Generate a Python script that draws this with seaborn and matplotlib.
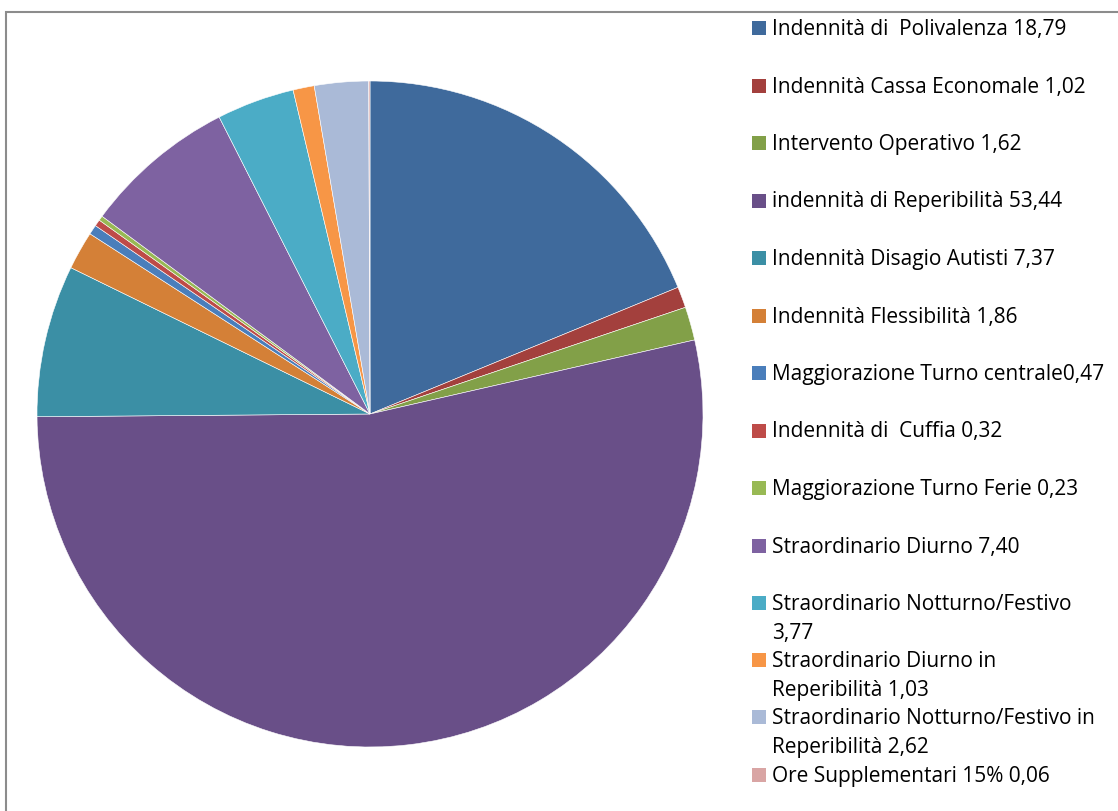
import matplotlib
matplotlib.use("Agg")
import matplotlib.pyplot as plt
from matplotlib.patches import Rectangle
import seaborn as sns

# voci e valori (percentuali)
labels = [
    "Indennità di  Polivalenza 18,79",
    "Indennità Cassa Economale 1,02",
    "Intervento Operativo 1,62",
    "indennità di Reperibilità 53,44",
    "Indennità Disagio Autisti 7,37",
    "Indennità Flessibilità 1,86",
    "Maggiorazione Turno centrale0,47",
    "Indennità di  Cuffia 0,32",
    "Maggiorazione Turno Ferie 0,23",
    "Straordinario Diurno 7,40",
    "Straordinario Notturno/Festivo\n3,77",
    "Straordinario Diurno in\nReperibilità 1,03",
    "Straordinario Notturno/Festivo in\nReperibilità 2,62",
    "Ore Supplementari 15% 0,06",
]
values = [18.79, 1.02, 1.62, 53.44, 7.37, 1.86, 0.47, 0.32, 0.23, 7.40, 3.77, 1.03, 2.62, 0.06]
colors = ["#3F6A9C", "#A3403D", "#82A048", "#694F88", "#3B8FA5", "#D48037",
          "#4A7EBB", "#BE4B48", "#98B954", "#7E62A1", "#4BACC6", "#F79646",
          "#AABAD7", "#D9A5A4"]

sns.set_theme(style="white")
plt.rcParams["font.family"] = ["Open Sans", "DejaVu Sans"]

W, H = 1118, 811
fig = plt.figure(figsize=(W / 100, H / 100), dpi=100)

# cornice grigia
fig.add_artist(Rectangle((6 / W, -0.1), 1.1, (H - 12) / H + 0.1,
                         transform=fig.transFigure, fill=False,
                         edgecolor="#8C8C8C", linewidth=1.5))

# torta
cx, cy, r = 370, 414, 333
ax = fig.add_axes([(cx - r) / W, (H - cy - r) / H, 2 * r / W, 2 * r / H])
ax.pie(values, colors=colors, startangle=90, counterclock=False,
       wedgeprops=dict(edgecolor="white", linewidth=0.4))
ax.set_xlim(-1, 1)
ax.set_ylim(-1, 1)
ax.set_axis_off()

# legenda (una riga di testo alla volta)
y = 28
for lab, col in zip(labels, colors):
    lines = lab.split("\n")
    fig.add_artist(Rectangle((752 / W, (H - y - 7) / H), 14 / W, 14 / H,
                             transform=fig.transFigure, facecolor=col,
                             edgecolor="none"))
    for k, line in enumerate(lines):
        fig.text(772 / W, (H - y - 7 - 28.6 * k) / H, line, fontsize=15,
                 va="baseline", ha="left", color="black")
    y += 57.5 if y < 560 else 28.6 * len(lines)

fig.savefig("out.png", dpi=100)
